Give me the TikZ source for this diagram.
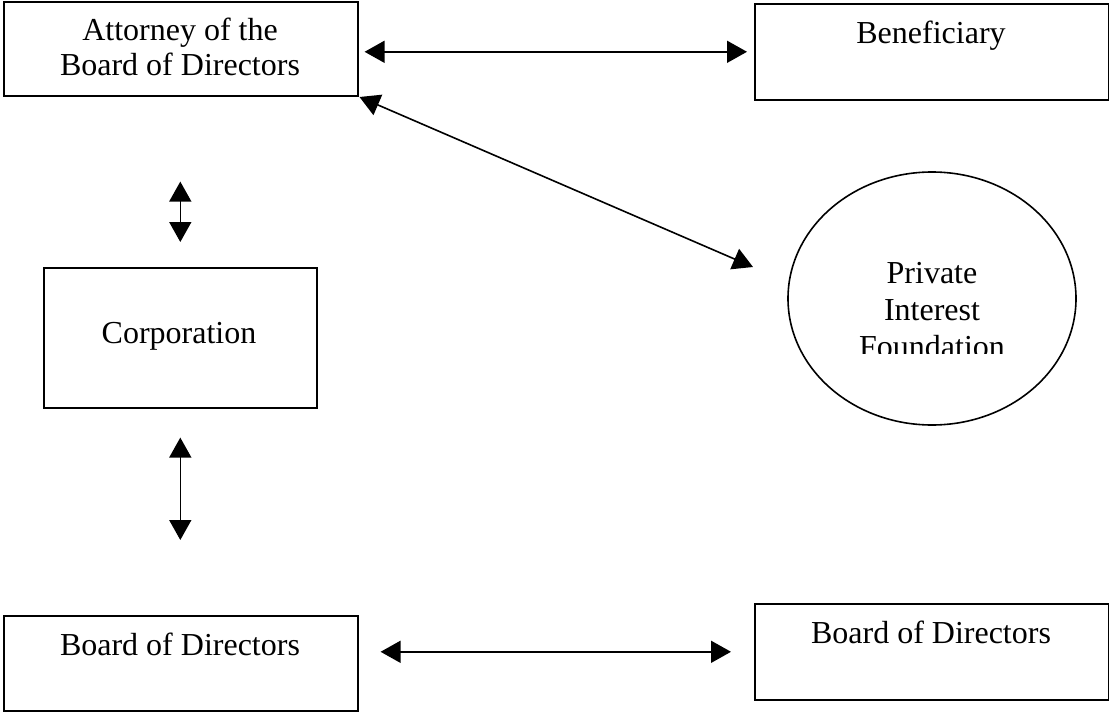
\documentclass[tikz,border=0pt]{standalone}
\usepackage{fontspec}
\setmainfont{Liberation Serif}
\usetikzlibrary{arrows.meta,shapes.geometric}
\begin{document}
\begin{tikzpicture}[x=1pt,y=-1pt,
  box/.style={draw,line width=1.6pt,rectangle,inner sep=0pt,anchor=north west},
  oval/.style={draw,line width=1.6pt,ellipse,inner sep=0pt},
  txt/.style={font=\fontsize{32}{37}\selectfont,anchor=base,inner sep=0pt},
  link/.style={line width=1.6pt,{Triangle[length=20pt,width=22pt]}-{Triangle[length=20pt,width=22pt]}}]
\useasboundingbox (0,0) rectangle (1109,712);
% boxes
\node[box,minimum width=354pt,minimum height=94pt] (att) at (3,1) {};
\node[box,minimum width=354pt,minimum height=96pt] (ben) at (754,3) {};
\node[box,minimum width=273pt,minimum height=140pt] (corp) at (43,267) {};
\node[box,minimum width=354pt,minimum height=95pt] (bod1) at (3,615) {};
\node[box,minimum width=354pt,minimum height=96pt] (bod2) at (754,603) {};
\node[oval,minimum width=288pt,minimum height=253pt] (pif) at (932,298.5) {};
% texts
\node[txt] (attA) at (180,40) {Attorney of the};
\node[txt] (attB) at (180,75) {Board of Directors};
\node[txt] (benT) at (931,43) {Beneficiary};
\node[txt] (corpT) at (179,343) {Corporation};
\node[txt] (bod1T) at (180,655) {Board of Directors};
\node[txt] (bod2T) at (931,643) {Board of Directors};
\node[txt] (pifA) at (932,283) {Private};
\node[txt] (pifB) at (932,320) {Interest};
\begin{scope}
  \clip (800,330) rectangle (1060,353);
  \node[txt] (pifC) at (932,357) {Foundation};
\end{scope}
% connectors
\coordinate (pifend) at (753,267);
\draw[link,shorten <=6pt,shorten >=7pt] (ben.west -| att.east) -- (ben.west);
\draw[link,shorten <=1pt] (att.south east) -- (pifend);
\draw[link,shorten <=85pt,shorten >=25pt] (att.south -| corp.north) -- (corp.north);
\draw[link,shorten <=29pt,shorten >=75pt] (corp.south) -- (corp.south |- bod1.north);
\draw[link,shorten <=22pt,shorten >=23pt] (bod2.west -| bod1.east) -- (bod2.west);
\end{tikzpicture}
\end{document}
